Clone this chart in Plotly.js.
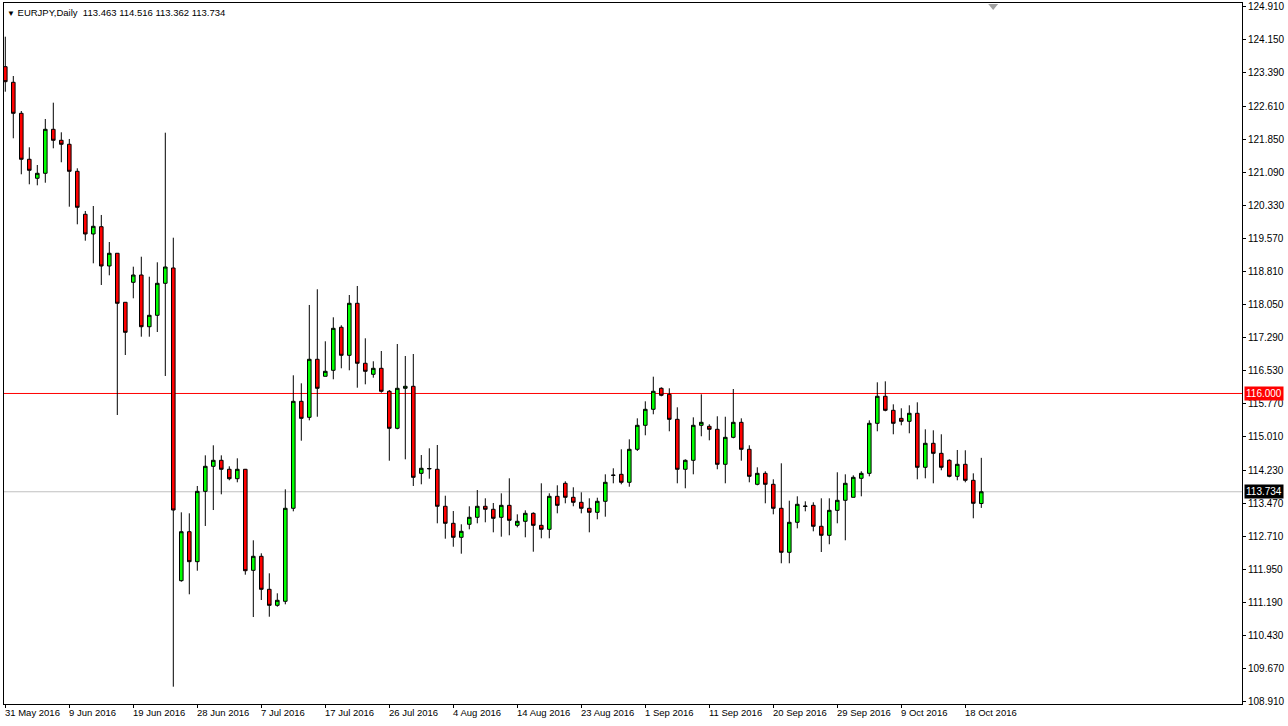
<!DOCTYPE html>
<html>
<head>
<meta charset="utf-8">
<script src="https://cdn.plot.ly/plotly-3.0.1.min.js"></script>
<style>
html,body{margin:0;padding:0;background:#fff;}
#chart{width:1288px;height:726px;}
</style>
</head>
<body>
<div id="chart"></div>
<script>
// ---- Data (EURJPY daily) ----
const symbolName = "EURJPY,Daily";
const opens = [
123.534,123.174,122.459,121.399,120.961,121.076,122.090,121.837,121.745,121.122,
120.131,119.677,119.845,118.939,119.232,118.102,118.563,118.731,117.539,117.802,
118.540,118.893,111.684,112.813,112.122,113.744,114.321,114.459,114.252,114.035,
114.252,111.923,112.246,111.485,111.116,111.209,113.353,115.819,115.450,116.788,
116.396,116.534,117.526,116.880,118.079,116.696,116.442,116.580,116.050,115.197,
116.119,116.165,114.159,114.260,114.252,113.399,113.007,112.684,112.984,113.145,
113.399,113.330,113.145,113.421,112.960,113.053,113.237,112.960,112.868,113.629,
113.929,113.606,113.491,113.353,113.260,113.514,114.110,114.136,113.952,114.713,
115.266,115.635,116.119,115.981,115.404,114.252,114.459,115.266,115.243,115.174,
114.367,114.989,115.335,114.713,113.906,114.159,113.906,113.353,112.338,113.030,
113.395,113.421,112.938,112.730,113.306,113.537,113.606,114.044,114.159,115.312,
115.935,115.612,115.427,115.358,115.543,114.298,114.851,114.620,114.459,114.090,
114.367,113.998,113.463];
const highs = [
124.225,123.319,122.512,121.675,121.267,122.328,122.704,122.021,121.867,121.191,
120.207,120.322,120.115,119.492,119.232,118.102,118.923,119.153,118.692,119.024,
122.012,119.591,113.260,113.237,113.867,114.574,114.805,114.574,114.321,114.505,
114.260,112.615,112.315,111.854,111.393,113.790,116.419,116.234,118.040,118.402,
117.203,117.756,117.572,118.270,118.478,117.272,116.742,116.979,116.080,117.140,
116.864,116.910,114.581,114.736,114.812,113.643,113.290,112.984,113.399,113.774,
113.583,113.475,113.698,114.044,113.214,113.306,113.260,113.929,113.698,113.883,
113.975,113.837,113.721,113.583,113.597,114.136,114.275,114.713,114.943,115.427,
115.819,116.387,116.142,116.119,115.681,114.482,115.450,115.981,115.289,115.474,
115.464,116.103,115.427,114.805,114.298,114.206,114.021,114.390,113.528,113.629,
113.514,113.491,113.583,113.583,114.183,114.136,114.113,114.206,115.381,116.257,
116.280,115.750,115.658,115.727,115.796,115.174,115.151,115.059,114.482,114.697,
114.690,114.159,114.516];
const lows = [
122.957,121.883,121.053,120.822,120.799,120.859,121.652,121.330,120.306,119.900,
119.522,119.001,118.501,118.724,115.504,116.887,118.194,117.309,117.309,117.417,
116.403,109.240,111.660,111.370,111.914,112.945,113.313,113.675,113.998,113.952,
111.822,110.846,111.238,110.853,111.084,111.139,113.283,114.911,115.381,115.464,
116.396,116.327,116.580,116.534,116.133,116.211,116.364,116.018,114.450,115.174,
114.482,113.867,113.906,114.035,113.007,112.652,112.467,112.306,112.868,113.007,
113.030,112.799,112.698,112.730,112.914,112.684,112.352,112.661,112.661,113.237,
113.468,113.399,113.237,112.799,113.099,113.159,113.929,113.906,113.851,114.674,
115.036,115.520,115.935,115.128,113.929,113.814,114.136,115.013,114.920,114.252,
113.929,114.966,114.450,113.952,113.883,113.468,113.214,112.085,112.085,112.891,
113.283,112.822,112.345,112.523,113.007,112.615,113.606,113.629,114.090,115.128,
115.589,115.059,115.266,115.082,114.021,114.044,113.929,114.229,114.067,113.998,
113.952,113.122,113.362];
const closes = [
123.188,122.459,121.399,121.145,121.076,122.090,121.837,121.745,121.122,120.292,
119.677,119.854,118.939,119.232,118.079,117.410,118.731,117.539,117.802,118.540,
118.916,113.313,112.813,112.122,113.744,114.321,114.459,114.252,114.035,114.252,
111.914,112.246,111.485,111.116,111.232,113.353,115.819,115.427,116.788,116.119,
116.511,117.502,116.880,118.079,116.696,116.511,116.580,116.050,115.197,116.119,
116.165,114.067,114.275,114.270,113.399,113.007,112.684,112.822,113.145,113.399,
113.330,113.122,113.421,113.076,113.053,113.237,112.960,112.868,113.629,113.421,
113.606,113.491,113.353,113.260,113.514,113.952,114.117,113.952,114.713,115.266,
115.635,116.050,115.958,115.404,114.252,114.459,115.266,115.335,115.174,114.367,
114.989,115.335,114.713,114.090,114.159,113.906,113.353,112.338,113.030,113.445,
113.403,112.938,112.730,113.306,113.537,113.929,114.067,114.159,115.312,115.935,
115.612,115.312,115.358,115.543,114.298,114.851,114.620,114.298,114.090,114.367,
113.998,113.468,113.734];

// Date labels every 8 bars
const dateLabels = ["31 May 2016","9 Jun 2016","19 Jun 2016","28 Jun 2016","7 Jul 2016",
  "17 Jul 2016","26 Jul 2016","4 Aug 2016","14 Aug 2016","23 Aug 2016","1 Sep 2016",
  "11 Sep 2016","20 Sep 2016","29 Sep 2016","9 Oct 2016","18 Oct 2016"];
const dateLabelBars = [0,8,16,24,32,40,48,56,64,72,80,88,96,104,112,120];

// Price scale ticks
const priceTicks = [124.910,124.150,123.390,122.610,121.850,121.090,120.330,119.570,118.810,
  118.050,117.290,116.530,115.770,115.010,114.230,113.470,112.710,111.950,111.190,110.430,
  109.670,108.910];

// Horizontal levels
const levelLine = 116.000;
const bidLine = closes[closes.length - 1];

// ---- Build chart ----
const xs = opens.map((_, i) => i);
const FONT = "Liberation Sans, Arial, sans-serif";

const trace = {
  type: "candlestick",
  x: xs, open: opens, high: highs, low: lows, close: closes,
  increasing: {line: {color: "#000000", width: 1}, fillcolor: "#00ff00"},
  decreasing: {line: {color: "#000000", width: 1}, fillcolor: "#ff0000"},
  whiskerwidth: 0,
  hoverinfo: "skip",
  showlegend: false
};

const annotations = dateLabels.map((t, k) => ({
  x: dateLabelBars[k], xref: "x", y: 0, yref: "paper",
  text: t, showarrow: false, xanchor: "left", yanchor: "top", yshift: -1, xshift: -2,
  font: {family: FONT, size: 9.5, color: "#000"}
}));

const last = closes.length - 1;
annotations.push({
  x: 0, xref: "paper", y: 1, yref: "paper", xanchor: "left", yanchor: "top",
  xshift: 1, yshift: -2, showarrow: false,
  text: "<span style='font-size:8px'>\u25BC</span> " + symbolName + "  " + [opens[last], highs[last], lows[last], closes[last]].map(v => v.toFixed(3)).join(" "),
  font: {family: FONT, size: 9.5, color: "#000"}
});
annotations.push({
  x: 1, xref: "paper", y: levelLine, yref: "y", xanchor: "left", yanchor: "middle",
  xshift: 2, showarrow: false, text: levelLine.toFixed(3), bgcolor: "#ff0000",
  borderpad: 1, font: {family: FONT, size: 10, color: "#ffffff"}
});
annotations.push({
  x: 1, xref: "paper", y: bidLine, yref: "y", xanchor: "left", yanchor: "middle",
  xshift: 2, showarrow: false, text: bidLine.toFixed(3), bgcolor: "#000000",
  borderpad: 1, font: {family: FONT, size: 10, color: "#ffffff"}
});

const shapes = [
  {type: "line", xref: "paper", x0: 0, x1: 1, yref: "y", y0: levelLine, y1: levelLine,
   line: {color: "#ff0000", width: 1}, layer: "below"},
  {type: "line", xref: "paper", x0: 0, x1: 1, yref: "y", y0: bidLine, y1: bidLine,
   line: {color: "#c0c0c0", width: 1}, layer: "below"},
  {type: "path", xref: "paper", yref: "paper",
   path: "M 0.7950 0.9986 L 0.8030 0.9986 L 0.7990 0.9900 Z",
   fillcolor: "#a0a0a0", line: {color: "#a0a0a0", width: 0}}
];

const layout = {
  width: 1288, height: 726,
  margin: {l: 4, r: 46, t: 3, b: 22, pad: 0},
  paper_bgcolor: "#ffffff", plot_bgcolor: "#ffffff",
  showlegend: false,
  boxgap: 0.36,
  xaxis: {
    type: "linear", range: [-0.1625, 154.5875],
    rangeslider: {visible: false},
    showgrid: false, zeroline: false,
    showline: true, mirror: true, linecolor: "#000", linewidth: 1,
    tickmode: "array", tickvals: dateLabelBars, ticktext: dateLabelBars.map(() => ""),
    ticks: "outside", ticklen: 3, tickcolor: "#000", showticklabels: false,
    fixedrange: true
  },
  yaxis: {
    side: "right", range: [108.841, 125.002],
    showgrid: false, zeroline: false,
    showline: true, mirror: true, linecolor: "#000", linewidth: 1,
    tickmode: "array", tickvals: priceTicks, ticktext: priceTicks.map(v => v.toFixed(3)),
    ticks: "outside", ticklen: 3, tickcolor: "#000",
    tickfont: {family: FONT, size: 10, color: "#000"},
    fixedrange: true
  },
  annotations: annotations,
  shapes: shapes
};

Plotly.newPlot("chart", [trace], layout, {displayModeBar: false, staticPlot: true});
</script>
</body>
</html>
